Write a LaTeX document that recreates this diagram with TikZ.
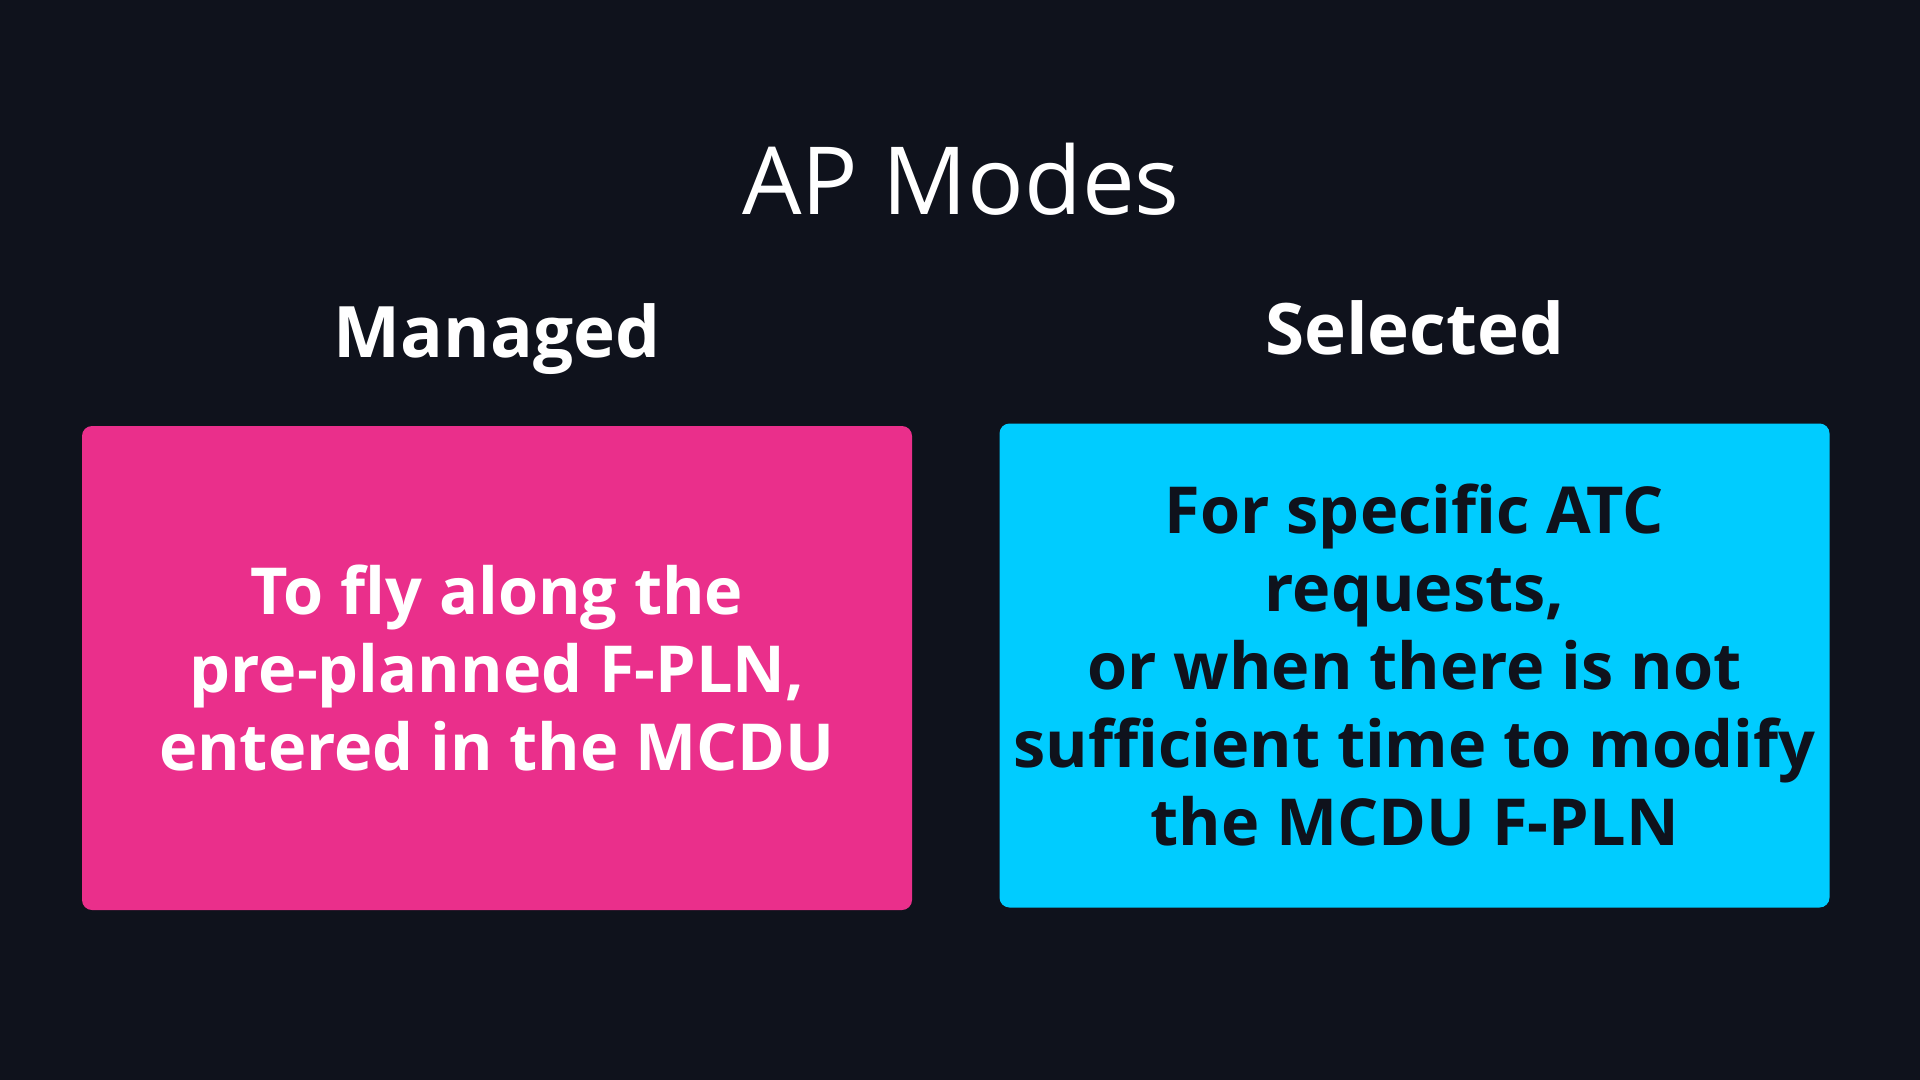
\documentclass[tikz,border=0pt]{standalone}
\usepackage{fontspec}
\setmainfont{Open Sans}
\usetikzlibrary{positioning}
\definecolor{bgdark}{HTML}{0F121C}
\definecolor{managedpink}{HTML}{EA2F8B}
\definecolor{selectedcyan}{HTML}{00CCFF}

\begin{document}
\begin{tikzpicture}[x=0.5pt,y=-0.5pt,node distance=34pt,
  mode box/.style={rounded corners=5pt,minimum width=415pt,minimum height=242pt,inner sep=0pt,align=center,font=\fontsize{32.4}{39}\selectfont\bfseries},
  mode head/.style={inner sep=0pt,text depth=0pt,text=white,font=\fontsize{35.5}{45}\selectfont\bfseries}]
            \fill[bgdark] (0,0) rectangle (1920,1080);
            \node[text=white,anchor=base,font=\fontsize{47}{56}\selectfont] (title) at (961,215) {AP Modes};

            \node[mode box,fill=managedpink,text=white] (managed) at (497,668)
                {To fly along the\\pre-planned F-PLN,\\entered in the MCDU};
            \node[mode box,fill=selectedcyan,text=bgdark] (selected) at (1414.5,665.5)
                {For specific ATC\\requests,\\or when there is not\\sufficient time to modify\\the MCDU F-PLN};

            \node[mode head] (managed head) [above=of managed]{Managed};
            \node[mode head] (selected head) [above=of selected]{Selected};
            \end{tikzpicture}
\end{document}
